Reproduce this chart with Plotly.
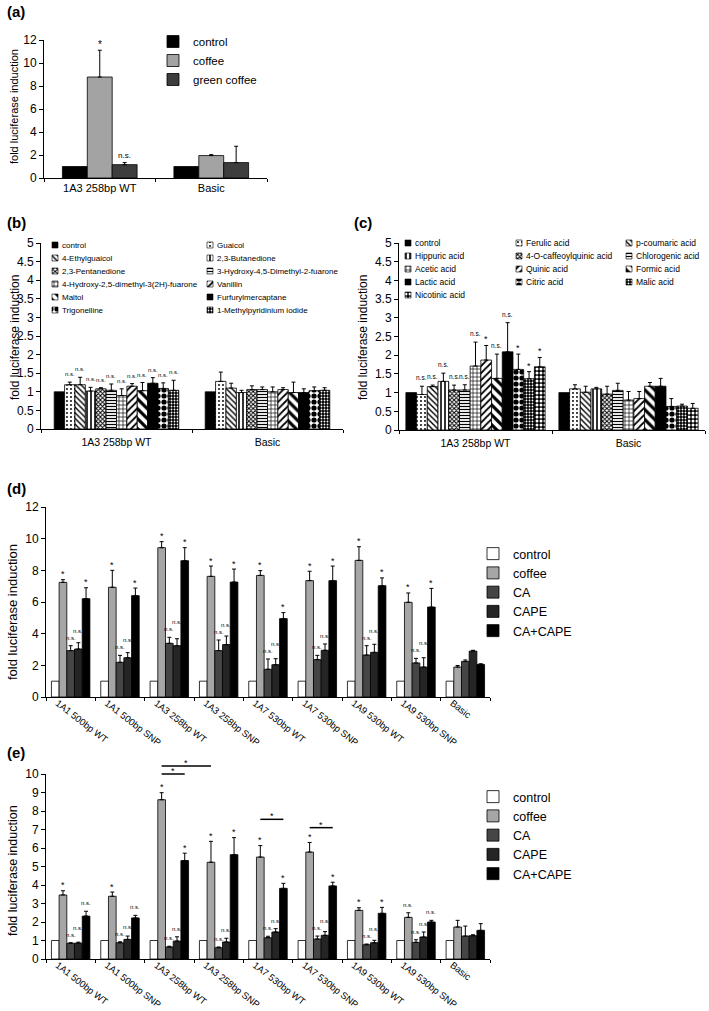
import plotly.graph_objects as go

W, H = 709, 1011
FONT = "Liberation Sans, Arial, Helvetica, sans-serif"

# ---------------- data: panel (a) ----------------
a_categories = ["1A3 258bp WT", "Basic"]
a_series = ["control", "coffee", "green coffee"]
a_control = [1.0, 1.0]
a_coffee = [8.78, 1.95]
a_green_coffee = [1.16, 1.34]
a_control_err = [0.0, 0.0]
a_coffee_err = [2.33, 0.08]
a_green_coffee_err = [0.18, 1.42]
a_control_sig = ["", ""]
a_coffee_sig = ["*", ""]
a_green_coffee_sig = ["n.s.", ""]

# ---------------- data: panel (b) ----------------
b_categories = ["1A3 258bp WT", "Basic"]
b_series = ["control", "Guaicol", "4-Ethylguaicol", "2,3-Butanedione", "2,3-Pentanedione",
            "3-Hydroxy-4,5-Dimethyl-2-fuarone", "4-Hydroxy-2,5-dimethyl-3(2H)-fuarone",
            "Vanillin", "Maltol", "Furfurylmercaptane", "Trigonelline",
            "1-Methylpyridinium iodide"]
b_wt = [1.00, 1.19, 1.19, 1.02, 1.08, 1.04, 0.90, 1.15, 1.03, 1.23, 1.09, 1.04]
b_wt_err = [0.00, 0.07, 0.20, 0.10, 0.03, 0.17, 0.18, 0.07, 0.22, 0.15, 0.15, 0.27]
b_basic = [1.00, 1.28, 1.10, 0.98, 1.06, 1.06, 1.00, 1.06, 0.98, 0.98, 1.03, 1.04]
b_basic_err = [0.00, 0.25, 0.13, 0.06, 0.10, 0.07, 0.13, 0.05, 0.28, 0.10, 0.10, 0.07]
b_wt_sig = ["", "n.s.", "n.s.", "n.s.", "n.s.", "n.s.", "n.s.", "n.s.", "n.s.", "n.s.", "n.s.", "n.s."]
b_basic_sig = ["", "", "", "", "", "", "", "", "", "", "", ""]

# ---------------- data: panel (c) ----------------
c_categories = ["1A3 258bp WT", "Basic"]
c_series = ["control", "Ferulic acid", "p-coumaric acid", "Hippuric acid",
            "4-O-caffeoylquinic acid", "Chlorogenic acid", "Acetic acid", "Quinic acid",
            "Formic acid", "Lactic acid", "Citric acid", "Malic acid", "Nicotinic acid"]
c_wt = [1.00, 0.95, 1.16, 1.30, 1.07, 1.07, 1.71, 1.87, 1.38, 2.09, 1.62, 1.37, 1.69]
c_wt_err = [0.00, 0.22, 0.04, 0.22, 0.13, 0.14, 0.64, 0.39, 0.65, 0.78, 0.41, 0.19, 0.25]
c_basic = [1.00, 1.10, 1.01, 1.10, 0.96, 1.06, 0.80, 0.84, 1.17, 1.17, 0.63, 0.64, 0.58]
c_basic_err = [0.00, 0.11, 0.16, 0.04, 0.21, 0.19, 0.23, 0.19, 0.10, 0.21, 0.21, 0.05, 0.13]
c_wt_sig = ["", "n.s.", "n.s.", "n.s.", "n.s.", "n.s.", "n.s.", "*", "n.s.", "n.s.", "*", "*", "*"]
c_basic_sig = ["", "", "", "", "", "", "", "", "", "", "", "", ""]

# ---------------- data: panel (d) ----------------
d_categories = ["1A1 500bp WT", "1A1 500bp SNP", "1A3 258bp WT", "1A3 258bp SNP",
                "1A7 530bp WT", "1A7 530bp SNP", "1A9 530bp WT", "1A9 530bp SNP", "Basic"]
d_series = ["control", "coffee", "CA", "CAPE", "CA+CAPE"]
d_control = [1, 1, 1, 1, 1, 1, 1, 1, 1]
d_coffee = [7.24, 6.93, 9.43, 7.62, 7.68, 7.35, 8.63, 5.98, 1.89]
d_ca = [2.93, 2.19, 3.39, 2.93, 1.75, 2.36, 2.65, 2.15, 2.25]
d_cape = [3.03, 2.48, 3.24, 3.31, 2.04, 2.95, 2.82, 1.89, 2.90]
d_ca_cape = [6.21, 6.40, 8.61, 7.26, 4.95, 7.35, 7.03, 5.68, 2.06]
d_control_err = [0, 0, 0, 0, 0, 0, 0, 0, 0]
d_coffee_err = [0.17, 1.07, 0.38, 0.65, 0.30, 0.59, 0.86, 0.59, 0.10]
d_ca_err = [0.31, 0.44, 0.38, 0.67, 0.65, 0.27, 0.59, 0.29, 0.09]
d_cape_err = [0.40, 0.32, 0.44, 0.54, 0.38, 0.40, 0.51, 0.59, 0.05]
d_ca_cape_err = [0.69, 0.48, 0.82, 0.82, 0.38, 0.92, 0.49, 1.18, 0.04]
d_control_sig = ["", "", "", "", "", "", "", "", ""]
d_coffee_sig = ["*", "*", "*", "*", "*", "*", "*", "*", ""]
d_ca_sig = ["n.s.", "n.s.", "n.s.", "n.s.", "n.s.", "n.s.", "n.s.", "n.s.", ""]
d_cape_sig = ["n.s.", "n.s.", "n.s.", "n.s.", "n.s.", "n.s.", "n.s.", "n.s.", ""]
d_ca_cape_sig = ["*", "*", "*", "*", "*", "*", "*", "*", ""]

# ---------------- data: panel (e) ----------------
e_categories = ["1A1 500bp WT", "1A1 500bp SNP", "1A3 258bp WT", "1A3 258bp SNP",
                "1A7 530bp WT", "1A7 530bp SNP", "1A9 530bp WT", "1A9 530bp SNP", "Basic"]
e_series = ["control", "coffee", "CA", "CAPE", "CA+CAPE"]
e_control = [1, 1, 1, 1, 1, 1, 1, 1, 1]
e_coffee = [3.46, 3.39, 8.61, 5.23, 5.51, 5.78, 2.63, 2.25, 1.73]
e_ca = [0.85, 0.88, 0.65, 0.61, 1.15, 1.08, 0.77, 0.90, 1.24]
e_cape = [0.86, 1.06, 0.97, 0.92, 1.46, 1.28, 0.88, 1.19, 1.26]
e_ca_cape = [2.32, 2.22, 5.32, 5.64, 3.82, 3.95, 2.47, 2.00, 1.55]
e_control_err = [0, 0, 0, 0, 0, 0, 0, 0, 0]
e_coffee_err = [0.23, 0.23, 0.38, 1.13, 0.62, 0.52, 0.14, 0.25, 0.36]
e_ca_err = [0.03, 0.05, 0.04, 0.04, 0.08, 0.16, 0.04, 0.14, 0.54]
e_cape_err = [0.05, 0.18, 0.23, 0.20, 0.18, 0.20, 0.13, 0.27, 0.05]
e_ca_cape_err = [0.26, 0.14, 0.40, 0.92, 0.27, 0.20, 0.32, 0.09, 0.36]
e_control_sig = ["", "", "", "", "", "", "", "", ""]
e_coffee_sig = ["*", "*", "*", "*", "*", "*", "*", "n.s.", ""]
e_ca_sig = ["n.s.", "n.s.", "n.s.", "n.s.", "n.s.", "n.s.", "n.s.", "n.s.", ""]
e_cape_sig = ["n.s.", "n.s.", "n.s.", "n.s.", "n.s.", "n.s.", "n.s.", "n.s.", ""]
e_ca_cape_sig = ["n.s.", "n.s.", "*", "*", "*", "*", "*", "n.s.", ""]
# significance brackets in (e): (category, series) -> (category, series), height
e_bracket_from = [(2, "coffee"), (2, "coffee"), (4, "coffee"), (5, "coffee")]
e_bracket_to = [(3, "coffee"), (2, "CA+CAPE"), (4, "CA+CAPE"), (5, "CA+CAPE")]
e_bracket_y = [10.43, 10.0, 7.55, 7.1]

Y_TITLE = "fold luciferase induction"

# ---------------- layout geometry (pixels) ----------------
PANELS = {
    "a": dict(ax="", x=(44, 267), y=(40, 178), ymax=12, dtick=2, gap=0.33),
    "b": dict(ax="2", x=(41, 343), y=(243, 429), ymax=5, dtick=0.5, gap=0.175),
    "c": dict(ax="3", x=(399, 705), y=(243, 430), ymax=5, dtick=0.5, gap=0.09),
    "d": dict(ax="4", x=(46, 490), y=(507, 697), ymax=12, dtick=2, gap=0.22),
    "e": dict(ax="5", x=(46, 490), y=(774, 959), ymax=10, dtick=1, gap=0.22),
}


def dom_x(l, r):
    return [l / W, r / W]


def dom_y(t, b):
    return [1 - b / H, 1 - t / H]


# pattern styles for (b)/(c): (shape, size, solidity, fg, bg); None = solid black
PATTERNS = [
    None,
    (".", 4, 0.18, "black", "white"),
    ("\\", 4, 0.35, "black", "white"),
    ("|", 4, 0.4, "black", "white"),
    ("x", 3, 0.55, "black", "white"),
    ("-", 3, 0.4, "black", "white"),
    ("+", 4, 0.3, "black", "white"),
    ("/", 5, 0.35, "black", "white"),
    ("\\", 7, 0.45, "black", "white"),
    None,
    (".", 6, 0.6, "black", "white"),
    (".", 3, 0.3, "white", "black"),
    (".", 4, 0.45, "white", "black"),
]


def pat_marker(k, lw=0.8):
    spec = PATTERNS[k]
    line = dict(color="black", width=lw)
    if spec is None:
        return dict(color="black", line=line)
    shape, size, sol, fg, bg = spec
    return dict(color=bg, line=line,
                pattern=dict(shape=shape, size=size, solidity=sol, fgcolor=fg,
                             bgcolor=bg, fillmode="replace"))


def solid_marker(c):
    return dict(color=c, line=dict(color="black", width=0.8))


fig = go.Figure()


def bar_geom(n, gap):
    w = (1 - gap) / n
    return w, [-(1 - gap) / 2 + i * w for i in range(n)]


def add_panel(panel, names, values, errors, sigs, markers, legend_id, sig_style,
              stagger=0):
    """sig_style: label -> (font size, extra pixel shift above the error-bar top)."""
    p = PANELS[panel]
    n = len(names)
    w, offs = bar_geom(n, p["gap"])
    ncat = len(values[0])
    xs = list(range(ncat))
    xr, yr = "x" + p["ax"], "y" + p["ax"]
    ppu = (p["y"][1] - p["y"][0]) / p["ymax"]  # pixels per data unit
    for i in range(n):
        has_err = any(e > 0 for e in errors[i])
        fig.add_trace(go.Bar(
            x=xs, y=values[i], offset=offs[i], width=w, name=names[i],
            marker=markers[i], xaxis=xr, yaxis=yr, hoverinfo="skip",
            showlegend=legend_id is not None,
            legend=legend_id if legend_id else "legend",
            error_y=dict(type="data", array=errors[i], arrayminus=[0] * ncat,
                         symmetric=False, color="black", thickness=1, width=2,
                         visible=has_err)))
    # significance labels, staggered upward when neighbours would collide
    for j in range(ncat):
        prev = None
        for i in range(n):
            s = sigs[i][j]
            if not s:
                prev = None
                continue
            fs, pad = sig_style[s]
            top = values[i][j] + errors[i][j]
            base = top * ppu + pad
            if stagger and prev is not None and abs(base - prev) < stagger:
                base = prev + stagger
            prev = base
            fig.add_annotation(
                x=j + offs[i] + w / 2, y=top, xref=xr, yref=yr, text=s,
                showarrow=False, yanchor="bottom", yshift=base - top * ppu,
                font=dict(size=fs, family=FONT, color="black"))
    return w, offs


# (a)
add_panel("a", a_series,
          [a_control, a_coffee, a_green_coffee],
          [a_control_err, a_coffee_err, a_green_coffee_err],
          [a_control_sig, a_coffee_sig, a_green_coffee_sig],
          [solid_marker("black"), solid_marker("#a3a3a3"), solid_marker("#3d3d3d")],
          "legend", {"*": (10, -2), "n.s.": (8, 1)})

# (b)
add_panel("b", b_series,
          [[b_wt[i], b_basic[i]] for i in range(len(b_series))],
          [[b_wt_err[i], b_basic_err[i]] for i in range(len(b_series))],
          [[b_wt_sig[i], b_basic_sig[i]] for i in range(len(b_series))],
          [pat_marker(i) for i in range(len(b_series))],
          None, {"*": (9, -1), "n.s.": (6, 3)})

# (c)
add_panel("c", c_series,
          [[c_wt[i], c_basic[i]] for i in range(len(c_series))],
          [[c_wt_err[i], c_basic_err[i]] for i in range(len(c_series))],
          [[c_wt_sig[i], c_basic_sig[i]] for i in range(len(c_series))],
          [pat_marker(i) for i in range(len(c_series))],
          None, {"*": (9, -1), "n.s.": (6.5, 3)})

DE_COLORS = ["white", "#a6a6a6", "#454545", "#252525", "#000000"]

# (d)
add_panel("d", d_series,
          [d_control, d_coffee, d_ca, d_cape, d_ca_cape],
          [d_control_err, d_coffee_err, d_ca_err, d_cape_err, d_ca_cape_err],
          [d_control_sig, d_coffee_sig, d_ca_sig, d_cape_sig, d_ca_cape_sig],
          [solid_marker(c) for c in DE_COLORS],
          "legend2", {"*": (9, -1.5), "n.s.": (6, 3)}, stagger=7)

# (e)
w_e, offs_e = add_panel("e", e_series,
                        [e_control, e_coffee, e_ca, e_cape, e_ca_cape],
                        [e_control_err, e_coffee_err, e_ca_err, e_cape_err, e_ca_cape_err],
                        [e_control_sig, e_coffee_sig, e_ca_sig, e_cape_sig, e_ca_cape_sig],
                        [solid_marker(c) for c in DE_COLORS],
                        "legend3", {"*": (9, -1.5), "n.s.": (6, 3)}, stagger=7)

# significance brackets of (e): x on the data axis, y converted to paper
pe = PANELS["e"]
ey0, ey1 = dom_y(*pe["y"])
for (c0, s0), (c1, s1), yb in zip(e_bracket_from, e_bracket_to, e_bracket_y):
    x0 = c0 + offs_e[e_series.index(s0)] + w_e / 2
    x1 = c1 + offs_e[e_series.index(s1)] + w_e / 2
    ypap = ey0 + (ey1 - ey0) * yb / pe["ymax"]
    fig.add_shape(type="line", xref="x5", yref="paper", x0=x0, x1=x1, y0=ypap, y1=ypap,
                  line=dict(color="black", width=1.5))
    fig.add_annotation(x=(x0 + x1) / 2, y=ypap, xref="x5", yref="paper", text="*",
                       showarrow=False, yanchor="bottom", yshift=-4,
                       font=dict(size=9, family=FONT, color="black"))

# ---------------- hand-set legends of (b) and (c) on a pixel canvas axis ----------------
LEGEND_GRIDS = {
    "b": dict(cols=[52, 207], row0=245, dy=13, sw=6, font=8, names=b_series),
    "c": dict(cols=[405, 516, 626], row0=243, dy=13, sw=6, font=8.5, names=c_series),
}
for key, g in LEGEND_GRIDS.items():
    nc = len(g["cols"])
    for i, name in enumerate(g["names"]):
        cx = g["cols"][i % nc]
        ry = g["row0"] + (i // nc) * g["dy"]
        fig.add_trace(go.Bar(x=[cx + g["sw"] / 2], y=[g["sw"]], base=[ry - g["sw"] / 2],
                             width=[g["sw"]], marker=pat_marker(i, 0.6), name=name,
                             showlegend=False, hoverinfo="skip", xaxis="x6", yaxis="y6"))
        fig.add_annotation(x=cx + g["sw"] + 1.5, y=ry, xref="x6", yref="y6", text=name,
                           showarrow=False, xanchor="left", yanchor="middle",
                           font=dict(size=g["font"], family=FONT, color="black"))

# ---------------- axes ----------------
CATS = {"a": a_categories, "b": b_categories, "c": c_categories,
        "d": d_categories, "e": e_categories}
XFONT = {"a": 11, "b": 10.5, "c": 10.5, "d": 9.5, "e": 9.5}
XANGLE = {"a": 0, "b": 0, "c": 0, "d": 38, "e": 38}
XSTAND = {"a": 0, "b": 3, "c": 3, "d": -4, "e": -4}
XSHIFT = {"a": 0, "b": 0, "c": 0, "d": -13, "e": -13}
# y titles: (center x px, center y px, font size)
YTITLE_POS = {"a": (14, 107, 11), "b": (15, 338, 12), "c": (363, 338, 12),
              "d": (12, 612, 13), "e": (13, 871, 12.5)}

layout_axes = {}
for k, p in PANELS.items():
    cats = CATS[k]
    layout_axes["xaxis" + p["ax"]] = dict(
        domain=dom_x(*p["x"]), anchor="y" + p["ax"], range=[-0.5, len(cats) - 0.5],
        tickmode="array", tickvals=list(range(len(cats))), ticktext=cats,
        ticks="", showline=True, linecolor="black", linewidth=1, showgrid=False,
        zeroline=False, tickangle=XANGLE[k], ticklabelstandoff=XSTAND[k],
        ticklabelshift=XSHIFT[k],
        tickfont=dict(size=XFONT[k], family=FONT, color="black"),
        minor=dict(ticks="outside", tick0=0.5, dtick=1, ticklen=3,
                   tickcolor="black", tickwidth=1, showgrid=False),
        fixedrange=True)
    layout_axes["yaxis" + p["ax"]] = dict(
        domain=dom_y(*p["y"]), anchor="x" + p["ax"], range=[0, p["ymax"]],
        tick0=0, dtick=p["dtick"], ticks="outside", ticklen=4, tickcolor="black",
        showline=True, linecolor="black", linewidth=1, showgrid=False, zeroline=False,
        tickfont=dict(size=12, family=FONT, color="black"),
        fixedrange=True)
    tx, ty, tf = YTITLE_POS[k]
    fig.add_annotation(x=tx / W, y=1 - ty / H, xref="paper", yref="paper", text=Y_TITLE,
                       textangle=-90, showarrow=False, xanchor="center", yanchor="middle",
                       font=dict(size=tf, family=FONT, color="black"))

# pixel canvas (invisible) used for the legend grids of (b) and (c)
layout_axes["xaxis6"] = dict(domain=[0, 1], range=[0, W], visible=False, anchor="y6",
                             fixedrange=True)
layout_axes["yaxis6"] = dict(domain=[0, 1], range=[H, 0], visible=False, anchor="x6",
                             fixedrange=True)


def legend_cfg(xpx, ypx, size):
    return dict(x=xpx / W, y=1 - ypx / H, xanchor="left", yanchor="top",
                bgcolor="rgba(0,0,0,0)", borderwidth=0, orientation="v",
                traceorder="normal", tracegroupgap=0,
                font=dict(size=size, family=FONT, color="black"))


legends = {
    "legend": legend_cfg(153, 27, 11.5),
    "legend2": legend_cfg(473, 539, 12.5),
    "legend3": legend_cfg(473, 782, 12.5),
}

# panel labels
for lab, (lx, ly) in {"(a)": (5, 12), "(b)": (5, 222), "(c)": (352, 222),
                      "(d)": (5, 489), "(e)": (5, 752)}.items():
    fig.add_annotation(x=lx / W, y=1 - ly / H, xref="paper", yref="paper",
                       text="<b>%s</b>" % lab, showarrow=False, xanchor="left",
                       yanchor="middle", font=dict(size=15, family=FONT, color="black"))

fig.update_layout(
    width=W, height=H, margin=dict(l=0, r=0, t=0, b=0),
    paper_bgcolor="white", plot_bgcolor="rgba(0,0,0,0)", template="none",
    barmode="overlay", showlegend=True,
    font=dict(family=FONT, color="black"),
    **layout_axes, **legends)

fig.write_html("out.html", config={"displayModeBar": False},
               post_script="document.body.style.margin='0px';"
                           "document.body.style.overflow='hidden';")
